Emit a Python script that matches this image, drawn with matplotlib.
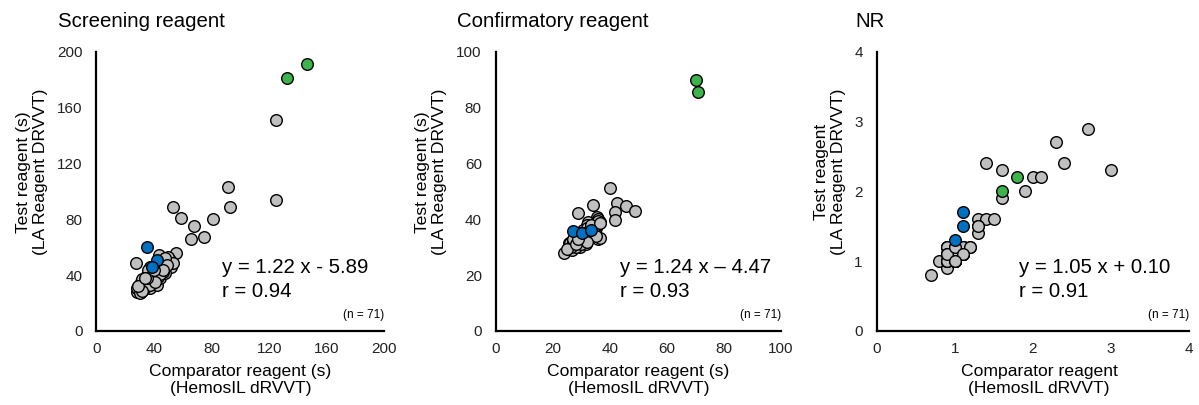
import matplotlib
matplotlib.use("Agg")
import matplotlib.pyplot as plt

plt.rcParams['font.family'] = ['Liberation Sans', 'DejaVu Sans']

# ---------------- Data ----------------
# Screening reagent (s)
scr_gray_x = [125, 125, 91.5, 93, 81, 75, 65.5, 67.5, 58.5, 53.5, 55, 51, 52,
              27.6, 28, 29.2, 31.5, 32.6, 35, 37.3, 39.6, 42, 44.2, 47.7, 40.8, 37.3, 43, 43.8, 50, 53.5, 47.7, 44.2,
              30, 31, 33, 34, 36, 38, 29, 30.5, 32, 35.5, 38.5, 41, 45, 46, 48, 49, 36, 33, 40, 42.5,
              39, 34, 31, 28.5, 30, 37, 44, 46.5, 41, 35, 32, 29, 34, 40]
scr_gray_y = [151, 94, 103, 88.5, 80, 67.5, 66, 75, 81, 88.5, 55.5, 51, 46,
              48.9, 28.1, 31.7, 29.3, 34.1, 38.9, 30.5, 36.5, 33, 37.7, 41.3, 41.3, 46, 48.5, 54.4, 53.2, 48.5, 46, 44.9,
              33, 35, 31, 36, 34, 40, 30, 32, 37, 40, 43, 38, 50, 42, 52, 47, 44, 30, 45, 39,
              35, 32, 28, 31, 27.5, 33, 41, 44, 35, 38, 29, 32, 38, 44]
scr_blue_x = [35, 42, 39]
scr_blue_y = [60, 51, 46]
scr_green_x = [132, 146]
scr_green_y = [181, 191]

# Confirmatory reagent (s)
con_gray_x = [40, 34.1, 42.5, 45.8, 48.7, 41.7, 41.7,
              24, 25.7, 26.8, 29.5, 35.9, 34.2, 29, 35.4, 32.5, 26, 30.7, 36.4,
              27, 28, 28.5, 30, 31, 32, 33, 34, 35, 36,
              31.5, 29.5, 33.5, 34.5, 32, 30.5, 27.5, 28, 31, 33,
              35, 36.5, 34, 32.5, 30, 29, 26.5, 25, 31.5, 33,
              34.5, 35.5, 28.5, 30, 32, 29.5, 27, 34, 36, 31,
              33.5, 28, 30.5, 35, 32, 29, 36.5]
con_gray_y = [51.3, 45.1, 45.7, 44.9, 43.1, 42.7, 39.7,
              28, 31.6, 29, 30.8, 32.8, 37.9, 42.1, 40.9, 39.1, 31.4, 33.2, 33.2,
              32, 34, 31, 33, 35, 36, 37, 38, 39, 40,
              32, 30, 34, 36, 38, 36, 33, 30, 34, 35,
              37, 39, 35, 33, 34, 32, 30, 29.5, 31, 36,
              37, 38, 35, 31, 37, 35, 33, 36, 39.5, 33,
              38, 31, 35, 34, 32, 33, 38.5]
con_blue_x = [27.2, 30.3, 33.4]
con_blue_y = [35.8, 35.2, 36.2]
con_green_x = [70.3, 70.9]
con_green_y = [89.9, 85.7]

# NR
nr_gray_x = [2.7, 2.3, 2.4, 3.0, 1.4, 1.6, 2.0, 2.1, 1.9, 1.6, 1.3, 1.4, 1.5, 1.3, 1.3,
             0.9, 1.0, 1.1, 1.2, 0.8, 0.9, 1.0, 0.9, 0.9, 1.1, 0.7, 1.0,
             0.9, 1.0, 1.1, 1.0, 0.9, 1.0, 1.1, 0.9, 1.0, 1.0, 1.1, 0.9, 1.0, 1.1,
             0.9, 1.0, 1.0, 1.1, 0.9, 1.0, 1.1, 1.0, 0.9, 1.0, 1.1, 1.0, 0.9, 1.0,
             1.1, 1.0, 0.9, 1.0, 1.2, 1.0, 0.9, 1.0, 1.1, 1.0, 1.3]
nr_gray_y = [2.9, 2.7, 2.4, 2.3, 2.4, 2.3, 2.2, 2.2, 2.0, 1.9, 1.6, 1.6, 1.6, 1.5, 1.4,
             1.2, 1.2, 1.2, 1.2, 1.0, 1.1, 1.0, 1.0, 0.9, 1.1, 0.8, 1.1,
             1.2, 1.0, 1.1, 1.2, 1.0, 1.1, 1.2, 1.1, 1.0, 1.2, 1.1, 1.0, 1.1, 1.2,
             1.1, 1.0, 1.2, 1.1, 1.2, 1.0, 1.2, 1.1, 1.0, 1.0, 1.1, 1.2, 1.1, 1.0,
             1.2, 1.1, 1.0, 1.1, 1.2, 1.0, 1.1, 1.2, 1.1, 1.0, 1.5]
nr_blue_x = [1.1, 1.1, 1.0]
nr_blue_y = [1.7, 1.5, 1.3]
nr_green_x = [1.8, 1.6]
nr_green_y = [2.2, 2.0]

titles = ["Screening reagent", "Confirmatory reagent", "NR"]
xlabels = ["Comparator reagent (s)\n(HemosIL dRVVT)",
           "Comparator reagent (s)\n(HemosIL dRVVT)",
           "Comparator reagent\n(HemosIL dRVVT)"]
ylabels = ["Test reagent (s)\n(LA Reagent DRVVT)",
           "Test reagent (s)\n(LA Reagent DRVVT)",
           "Test reagent\n(LA Reagent DRVVT)"]
equations = ["y = 1.22 x - 5.89\nr = 0.94",
             "y = 1.24 x \u2013 4.47\nr = 0.93",
             "y = 1.05 x + 0.10\nr = 0.91"]
n_label = "(n = 71)"
limits = [200, 100, 4]
ticks = [[0, 40, 80, 120, 160, 200], [0, 20, 40, 60, 80, 100], [0, 1, 2, 3, 4]]

series = [
    (scr_gray_x, scr_gray_y, scr_blue_x, scr_blue_y, scr_green_x, scr_green_y),
    (con_gray_x, con_gray_y, con_blue_x, con_blue_y, con_green_x, con_green_y),
    (nr_gray_x, nr_gray_y, nr_blue_x, nr_blue_y, nr_green_x, nr_green_y),
]

GRAY = "#C0C0C0"
BLUE = "#0070C0"
GREEN = "#3CB44B"

W, H = 1199, 405
fig = plt.figure(figsize=(W / 100, H / 100), dpi=100)

# axes pixel boxes: left, right, top, bottom
boxes = [(96.3, 384.5, 51.7, 331), (495.7, 781, 51.7, 331), (876.7, 1189, 51.7, 331)]
title_x = [-0.133, -0.135, -0.067]
ylab_x = [-0.224, -0.227, -0.150]
xlab_x = [0.5, 0.5, 0.52]
eq_x = [0.435, 0.436, 0.456]

for i, ax_box in enumerate(boxes):
    l, r, t, b = ax_box
    ax = fig.add_axes([l / W, (H - b) / H, (r - l) / W, (b - t) / H])
    gx, gy, bx, by, grx, gry = series[i]
    kw = dict(s=70, edgecolors="black", linewidths=1.0, zorder=3, clip_on=False)
    ax.scatter(gx, gy, c=GRAY, **kw)
    ax.scatter(bx, by, c=BLUE, **kw)
    ax.scatter(grx, gry, c=GREEN, **kw)

    ax.set_xlim(0, limits[i])
    ax.set_ylim(0, limits[i])
    ax.set_xticks(ticks[i])
    ax.set_yticks(ticks[i])
    ax.tick_params(length=0, labelsize=11, pad=8, colors="#222222")
    ax.tick_params(axis="y", pad=10)
    for s in ["top", "right"]:
        ax.spines[s].set_visible(False)
    for s in ["left", "bottom"]:
        ax.spines[s].set_linewidth(1.6)
        ax.spines[s].set_color("black")

    ax.set_xlabel(xlabels[i], fontsize=12.6, linespacing=1.12)
    ax.xaxis.set_label_coords(xlab_x[i], -0.176)
    ax.xaxis.label.set_va("center")
    ax.set_ylabel(ylabels[i], fontsize=12.6, linespacing=1.15)
    ax.yaxis.set_label_coords(ylab_x[i], 0.57)
    ax.yaxis.label.set_va("center")

    ax.text(title_x[i], 1.107, titles[i], transform=ax.transAxes,
            fontsize=14.7, ha="left", va="center")
    ax.text(eq_x[i], 0.184, equations[i], transform=ax.transAxes,
            fontsize=14.7, ha="left", va="center", linespacing=1.3)
    ax.text(1.0, 0.057, n_label, transform=ax.transAxes,
            fontsize=8.5, ha="right", va="center")

fig.savefig("out.png", dpi=100)
